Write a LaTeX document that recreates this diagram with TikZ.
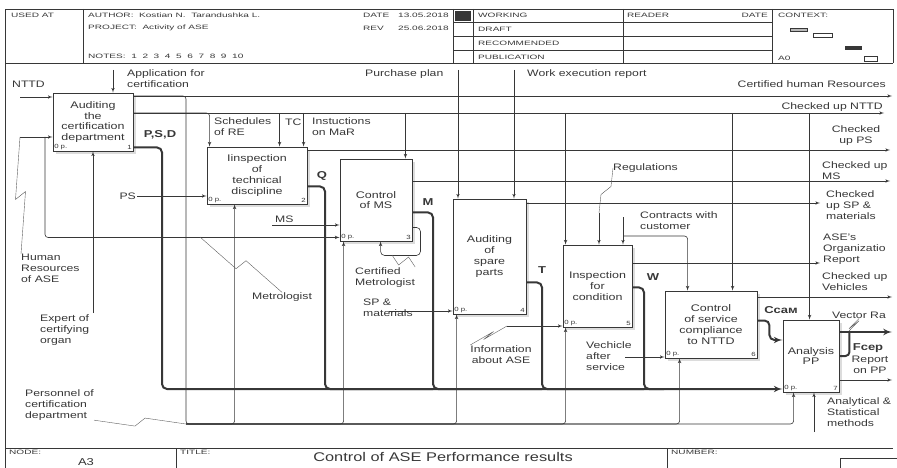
\documentclass[tikz,border=0pt]{standalone}
\usepackage{fontspec}
\setmainfont[FakeStretch=1.3]{Liberation Sans}
\newfontfamily\hdrfont[FakeStretch=1.6]{Liberation Sans}
\usetikzlibrary{arrows, positioning, calc, shadows}
\definecolor{ink}{RGB}{55, 55, 55}
\definecolor{shade}{RGB}{185, 185, 185}

\begin{document}
\begin{tikzpicture}[
    x=1pt, y=-1pt,
    % Styles embedded for portability
    func/.style={rectangle, draw=ink, line width=0.9pt, fill=white, align=center, inner sep=1pt, text=ink, font=\fontsize{9.6}{10.8}\selectfont, drop shadow={shadow xshift=3pt, shadow yshift=-3pt, fill=shade}},
    corner/.style={inner sep=1.5pt, text=ink, font=\fontsize{6}{6}\selectfont},
    lbl/.style={inner sep=0pt, align=left, text=ink, font=\fontsize{9.4}{11}\selectfont},
    tag/.style={inner sep=0pt, text=ink, font=\fontsize{10}{12}\selectfont\bfseries},
    hdr/.style={inner sep=0pt, anchor=west, text=ink, font=\hdrfont\fontsize{6.3}{7}\selectfont},
    line/.style={draw=ink, line width=0.6pt, -latex'},
    wire/.style={draw=ink, line width=0.6pt},
    flow/.style={draw=ink, line width=2pt, rounded corners=5pt},
    squiggle/.style={draw=ink!80, line width=0.4pt, to path={-- ($(\tikztostart)!0.5!(\tikztotarget)+(-5,4)$) -- ($(\tikztostart)!0.5!(\tikztotarget)+(5,-4)$) -- (\tikztotarget)}}
]
    \useasboundingbox (0,0) rectangle (897,468);

    % --- FRAME & HEADER ---
    \draw[ink, line width=0.7pt] (5,468) -- (5,9) -- (893,9) -- (893,63);
    \draw[ink, line width=0.7pt] (5,63) -- (893,63);
    \draw[ink, line width=0.5pt] (83,9) -- (83,63) (453,9) -- (453,63) (473,9) -- (473,63) (623,9) -- (623,63) (772,9) -- (772,63);
    \draw[ink, line width=0.5pt] (453,22) -- (772,22) (453,36) -- (772,36) (453,50) -- (772,50);
    \fill[ink] (455,11) rectangle (471,21);
    \node[hdr] at (11,15) {USED AT};
    \node[hdr] at (88,15) {AUTHOR:\ \ Kostian N.\ \ Tarandushka L.};
    \node[hdr] at (88,28) {PROJECT:\ \ Activity of ASE};
    \node[hdr] at (88,56) {NOTES:\ \ 1\ \ 2\ \ 3\ \ 4\ \ 5\ \ 6\ \ 7\ \ 8\ \ 9\ \ 10};
    \node[hdr] at (363,15) {DATE};
    \node[hdr] at (398,15) {13.05.2018};
    \node[hdr] at (363,28) {REV};
    \node[hdr] at (398,28) {25.06.2018};
    \node[hdr] at (478,15) {WORKING};
    \node[hdr] at (478,29) {DRAFT};
    \node[hdr] at (478,43) {RECOMMENDED};
    \node[hdr] at (478,57) {PUBLICATION};
    \node[hdr] at (627,15) {READER};
    \node[hdr, anchor=east] at (768,15) {DATE};
    \node[hdr] at (778,15) {CONTEXT:};
    \node[hdr] at (778,58) {A0};
    \draw[ink, fill=shade, line width=0.4pt] (790,28) rectangle (807,31);
    \draw[ink, line width=0.4pt] (813,33) rectangle (832,37);
    \fill[ink] (845,46) rectangle (862,50);
    \draw[ink, line width=0.4pt] (864,56) rectangle (877,61);

    % --- FOOTER ---
    \draw[ink, line width=0.7pt] (5,448) -- (893,448);
    \draw[ink, line width=0.5pt] (176,448) -- (176,468) (667,448) -- (667,468) (840,468) -- (840,458) -- (897,458);
    \node[hdr] at (9,452) {NODE:};
    \node[hdr] at (180,452) {TITLE:};
    \node[hdr] at (671,452) {NUMBER:};
    \node[lbl, font=\fontsize{10}{12}\selectfont] at (86,462) {A3};
    \node[lbl, font=\fontsize{12.6}{14}\selectfont] at (443,457) {Control of ASE Performance results};

    % --- ACTIVITIES ---
    \node[func, minimum width=80pt, minimum height=58pt, label={[corner, anchor=south west]south west:0 p.}, label={[corner, anchor=south east]south east:1}] (audit) at (93,122) {Auditing\\the\\certification\\department};
    \node[func, minimum width=100pt, minimum height=57pt, label={[corner, anchor=south west]south west:0 p.}, label={[corner, anchor=south east]south east:2}] (inspect) at (257,175.5) {Iinspection\\of\\technical\\discipline};
    \node[func, minimum width=72pt, minimum height=82pt, label={[corner, anchor=south west]south west:0 p.}, label={[corner, anchor=south east]south east:3}] (ctrlms) at (376,200) {Control\\of MS};
    \node[func, minimum width=73pt, minimum height=115pt, label={[corner, anchor=south west]south west:0 p.}, label={[corner, anchor=south east]south east:4}] (spare) at (489.5,256.5) {Auditing\\of\\spare\\parts};
    \node[func, minimum width=69pt, minimum height=82pt, label={[corner, anchor=south west]south west:0 p.}, label={[corner, anchor=south east]south east:5}] (cond) at (597.5,286) {Inspection\\for\\condition};
    \node[func, minimum width=92pt, minimum height=67pt, label={[corner, anchor=south west]south west:0 p.}, label={[corner, anchor=south east]south east:6}] (service) at (711,324.5) {Control\\of service\\compliance\\to NTTD};
    \node[func, minimum width=56pt, minimum height=72pt, label={[corner, anchor=south west]south west:0 p.}, label={[corner, anchor=south east]south east:7}] (analysis) at (811,356) {Analysis\\PP};

    % --- FREE ENDS ---
    \coordinate (nttdin) at (20,97);
    \coordinate (appin) at (113,70);
    \coordinate (hrin) at (20,137);
    \coordinate (hrbr) at (45,137);
    \coordinate (psin) at (137,196);
    \coordinate (msin) at (272,225);
    \coordinate (ppin) at (458,70);
    \coordinate (werin) at (514,70);
    \coordinate (spin) at (389,311);
    \coordinate (infoin) at (507,326);
    \coordinate (regin) at (599,213);
    \coordinate (contin) at (623,217);
    \coordinate (contbr) at (623,236);
    \coordinate (vehin) at (625,357);
    \coordinate (expin) at (93,313);
    \coordinate (anain) at (814,432);
    \coordinate (pbus) at (186,424);
    \coordinate (busL) at (162,389);
    \coordinate (qbus) at (325,389);
    \coordinate (mbus) at (433,389);
    \coordinate (tbus) at (542,389);
    \coordinate (wbus) at (644,389);
    \coordinate (metro) at (200,237);
    \coordinate (cmloop) at (392,255);
    \coordinate (vecsq) at (849,331);
    \coordinate (hrout) at (892,96);
    \coordinate (nttdout) at (884,113);
    \coordinate (psout) at (890,150);
    \coordinate (msout) at (890,181);
    \coordinate (spout) at (820,203);
    \coordinate (orgout) at (820,263);
    \coordinate (vehout) at (892,297);
    \coordinate (vecout) at (892,332);
    \coordinate (repout) at (892,380);

    % control and mechanism points on the boxes
    \coordinate (c2a) at ($(inspect.north west)+(3,0)$);
    \coordinate (c2b) at ($(inspect.north west)+(73,0)$);
    \coordinate (c2c) at ($(inspect.north west)+(97,0)$);
    \coordinate (c3a) at ($(ctrlms.north east)+(-7,0)$);
    \coordinate (c5a) at ($(cond.north west)+(3,0)$);
    \coordinate (c6a) at ($(service.north west)+(23,0)$);
    \coordinate (c6b) at ($(service.north west)+(68,0)$);
    \coordinate (c7a) at ($(analysis.north west)+(27,0)$);
    \coordinate (m2) at ($(inspect.south west)+(28,0)$);
    \coordinate (m3) at ($(ctrlms.south west)+(4,0)$);
    \coordinate (m3b) at ($(ctrlms.south west)+(41,0)$);
    \coordinate (m4) at ($(spare.south west)+(4,0)$);
    \coordinate (m5) at ($(cond.south west)+(3,0)$);
    \coordinate (m6) at ($(service.south west)+(15,0)$);
    \coordinate (m7) at ($(analysis.south west)+(11,0)$);

    % --- LABELS ---
    \node[lbl, anchor=west] (nttdlbl) at (12,84) {NTTD};
    \node[lbl, anchor=north west] (applbl) at (127,69) {Application for\\certification};
    \node[lbl, anchor=north west] (hrlbl) at (21,254) {Human\\Resources\\of ASE};
    \node[lbl, anchor=north west] (explbl) at (40,314) {Expert of\\certifying\\organ};
    \node[lbl, anchor=north west] (perslbl) at (25,389) {Personnel of\\certification\\department};
    \node[lbl, anchor=east] (pslbl) at (136,196) {PS};
    \node[lbl, anchor=north west] (schlbl) at (214,117) {Schedules\\of RE};
    \node[lbl, anchor=north west] (tclbl) at (285,119) {TC};
    \node[lbl, anchor=north west] (marlbl) at (312,117) {Instuctions\\on MaR};
    \node[lbl, anchor=south west] (mslbl) at (275,223) {MS};
    \node[lbl, anchor=west] (metrolbl) at (252,297) {Metrologist};
    \node[lbl, anchor=north west] (cmlbl) at (355,267) {Certified\\Metrologist};
    \node[lbl, anchor=north west] (splbl) at (363,299) {SP \&\\materials};
    \node[lbl, anchor=west] (pplbl) at (365,74) {Purchase plan};
    \node[lbl, anchor=west] (werlbl) at (527,74) {Work execution report};
    \node[lbl, anchor=west] (reglbl) at (613,168) {Regulations};
    \node[lbl, anchor=north west] (contlbl) at (640,211) {Contracts with\\customer};
    \node[lbl, anchor=north, align=center] (infolbl) at (501,345) {Information\\about ASE};
    \node[lbl, anchor=north west] (vehlbl) at (586,341) {Vechicle\\after\\service};
    \node[lbl, anchor=east] (hroutlbl) at (886,84) {Certified human Resources};
    \node[lbl, anchor=east] (nttdoutlbl) at (883,107) {Checked up NTTD};
    \node[lbl, anchor=south, align=center] (psoutlbl) at (856,146) {Checked\\up PS};
    \node[lbl, anchor=north west] (msoutlbl) at (822,161) {Checked up\\MS};
    \node[lbl, anchor=north west] (spoutlbl) at (826,190) {Checked\\up SP \&\\materials};
    \node[lbl, anchor=north west] (orglbl) at (823,234) {ASE's\\Organizatio\\Report};
    \node[lbl, anchor=north west] (vehoutlbl) at (822,272) {Checked up\\Vehicles};
    \node[lbl, anchor=west] (veclbl) at (832,315) {Vector Ra};
    \node[lbl, anchor=north, align=center] (replbl) at (870,356) {Report\\on PP};
    \node[lbl, anchor=north west] (analbl) at (827,397) {Analytical \&\\Statistical\\methods};
    \node[tag] (psdtag) at (160,135) {P,S,D};
    \node[tag] (qtag) at (322,176) {Q};
    \node[tag] (mtag) at (428,202) {M};
    \node[tag] (ttag) at (542,270) {T};
    \node[tag] (wtag) at (653,277) {W};
    \node[tag] (ccamtag) at (781,310) {Ccaм};
    \node[tag] (fceptag) at (868,348) {Fcep};

    % --- INPUTS & CONTROLS ---
    \draw[line] (nttdin) -- (audit.west |- nttdin);
    \draw[line] (appin) -- (appin |- audit.north);
    \draw[line] (hrin) -- (audit.west |- hrin);
    \draw[line, rounded corners=3pt] (hrbr) |- ($(ctrlms.south west)+(0,-4)$);
    \draw[line] (psin) -- (inspect.west |- psin);
    \draw[line] (msin) -- (ctrlms.west |- msin);
    \draw[line] (ppin) -- (ppin |- spare.north);
    \draw[line] (werin) -- (werin |- spare.north);
    \draw[line] (spin) -- (spare.west |- spin);
    \draw[line] (infoin) -- (cond.west |- infoin);
    \draw[line] (regin) -- (regin |- cond.north);
    \draw[line] (contin) -- (contin |- cond.north);
    \draw[line, rounded corners=3pt] (contbr) -| (c6a);
    \draw[line] (vehin) -- (service.west |- vehin);

    % Checked up NTTD feeds the controls
    \draw[line] (audit.east |- nttdout) -- (nttdout);
    \draw[line, rounded corners=3pt] (audit.east |- nttdout) -| (c2a);
    \draw[line] (c2b |- nttdout) -- (c2b);
    \draw[line] (c2c |- nttdout) -- (c2c);
    \draw[line] (c3a |- nttdout) -- (c3a);
    \draw[line] (c5a |- nttdout) -- (c5a);
    \draw[line] (c6b |- nttdout) -- (c6b);
    \draw[line] (c7a |- nttdout) -- (c7a);

    % --- OUTPUTS ---
    \draw[line] (audit.east |- hrout) -- (hrout);
    \draw[line] (inspect.east |- psout) -- (psout);
    \draw[line] (ctrlms.east |- msout) -- (msout);
    \draw[line] (spare.east |- spout) -- (spout);
    \draw[line] (cond.east |- orgout) -- (orgout);
    \draw[line] (service.east |- vehout) -- (vehout);
    \draw[line] (analysis.east |- repout) -- (repout);
    \draw[line, rounded corners=4pt] ($(ctrlms.south east)+(0,-14)$) -| ($(ctrlms.south east)+(8,14)$) -| (m3b);

    % Results bus
    \draw[flow, -latex'] ($(audit.south east)+(0,-4)$) -| (busL) -- (analysis.west |- busL);
    \draw[flow] ($(inspect.south east)+(0,-18)$) -| (qbus) -- (mbus);
    \draw[flow] ($(ctrlms.south east)+(0,-29)$) -| (mbus) -- (tbus);
    \draw[flow] ($(spare.south east)+(0,-32)$) -| (tbus) -- (wbus);
    \draw[flow] ($(cond.south east)+(0,-40)$) -| (wbus) -- ++(20,0);
    \draw[flow, -latex'] ($(service.east)+(0,-4)$) -- ++(12,0) |- ($(analysis.west)+(0,-16)$);
    \draw[flow, -latex'] (analysis.east |- vecout) -- (vecout);
    \draw[flow, rounded corners=4pt] (analysis.east) -| ($(analysis.north east)+(10,12)$);

    % --- MECHANISMS ---
    \draw[line] (expin) -- (expin |- audit.south);
    \draw[line] (anain) -- (anain |- analysis.south);
    \draw[line, rounded corners=3pt] (audit.east |- hrout) -| (pbus) -| (m2);
    \draw[line, rounded corners=3pt] (pbus) -| (m3);
    \draw[line, rounded corners=3pt] (pbus) -| (m4);
    \draw[line, rounded corners=3pt] (pbus) -| (m5);
    \draw[line, rounded corners=3pt] (pbus) -| (m6);
    \draw[line, rounded corners=3pt] (pbus) -| (m7);

    % --- SQUIGGLES ---
    \draw[squiggle] (hrin) to (hrlbl.north west);
    \draw[squiggle] (metro) to (metrolbl.north);
    \draw[squiggle] (cmloop) to (cmlbl.north east);
    \draw[squiggle] (infoin) to (infolbl.north west);
    \draw[squiggle] (regin) to (reglbl.west);
    \draw[squiggle] (perslbl.south east) to (pbus);
    \draw[squiggle] (veclbl.south) to (vecsq);

\end{tikzpicture}
\end{document}
